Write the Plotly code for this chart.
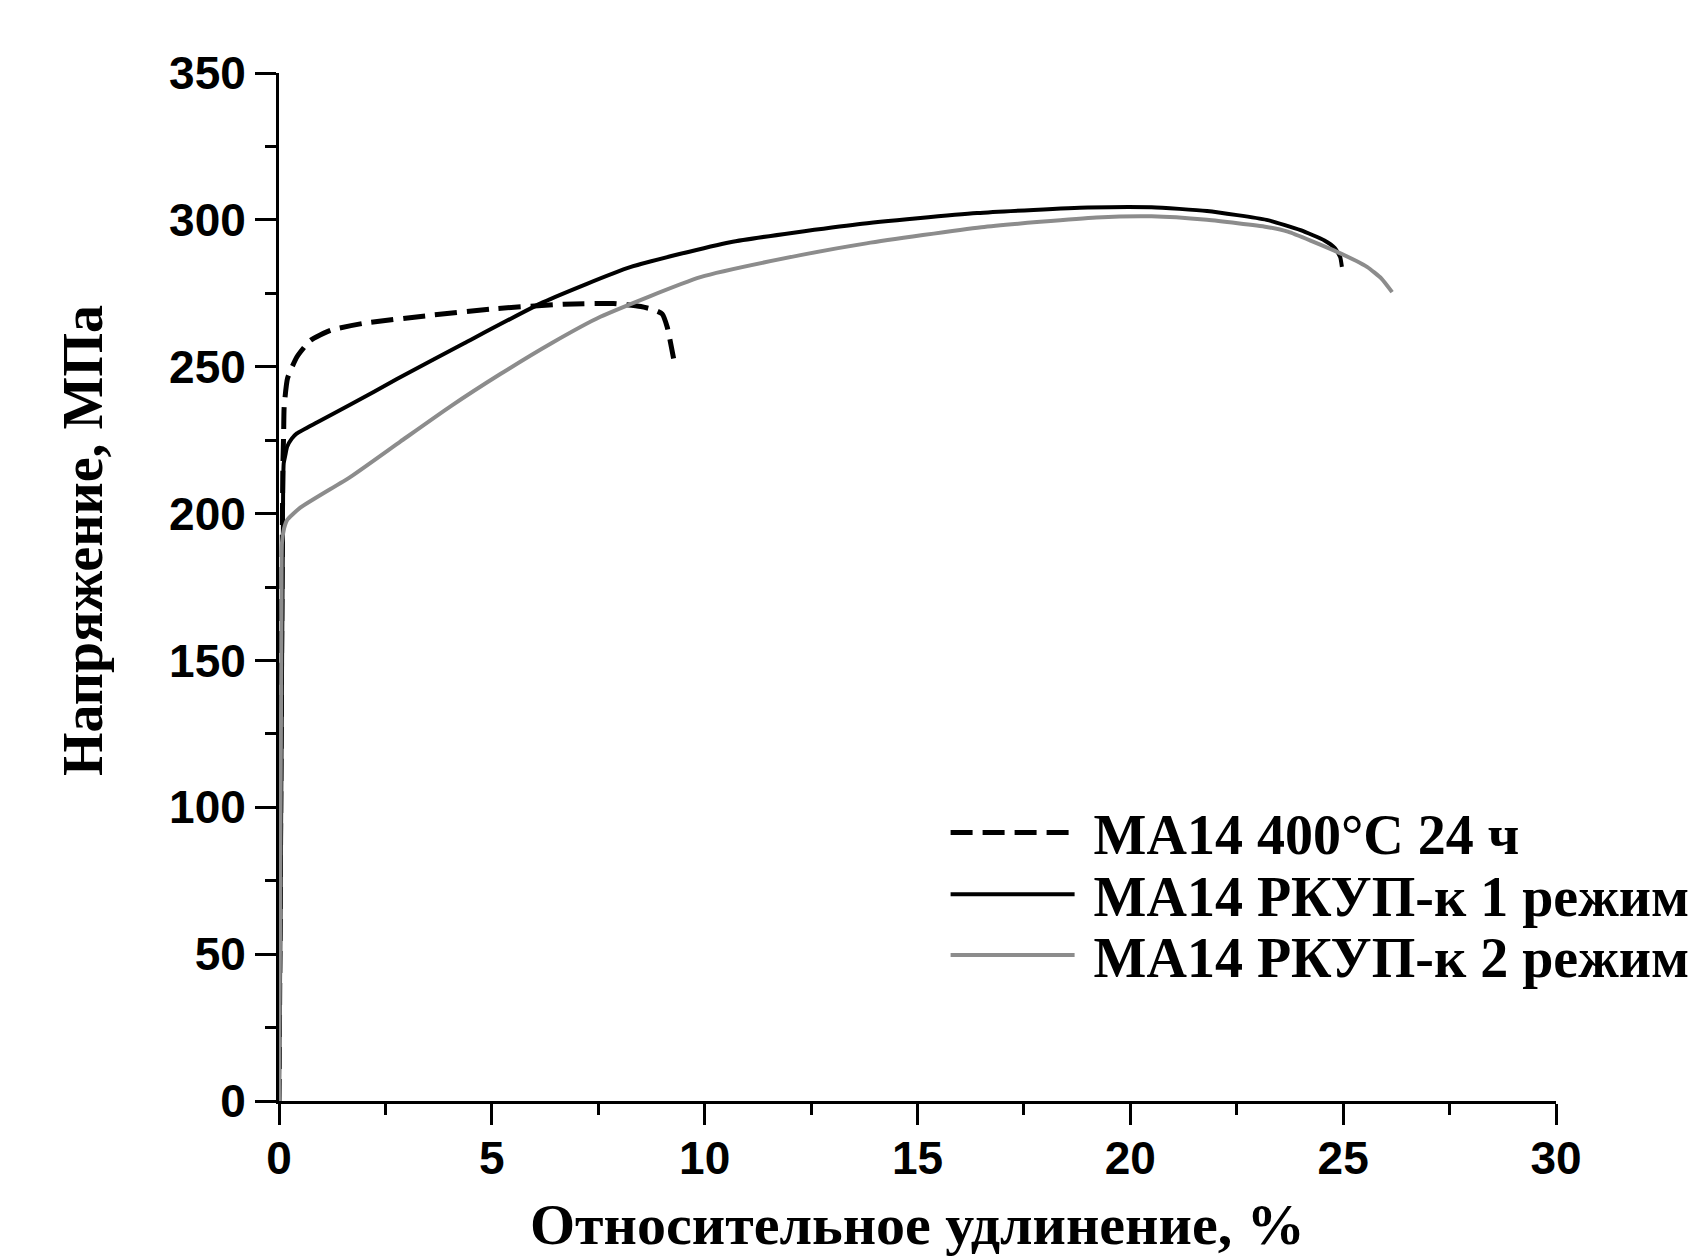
import plotly.graph_objects as go

# Series: strain (%) and stress (MPa)
x_annealed = [0.0, 0.03, 0.06, 0.09, 0.11, 0.12, 0.2, 0.42, 0.74, 1.21, 2.0, 3.56, 5.12, 6.69, 7.86, 8.5, 8.8, 9.0, 9.12, 9.27]
y_annealed = [0.0, 70, 150, 215, 228, 236, 246, 253.3, 259, 262.4, 264.8, 267.5, 269.8, 271.3, 271.5, 270.5, 269.4, 268, 263.5, 252.8]

x_ecap1 = [0.0, 0.03, 0.06, 0.09, 0.11, 0.15, 0.19, 0.3, 0.42, 0.9, 1.68, 2.77, 4.34, 6.21, 8.25, 10.6, 13.6, 16.4, 19.0, 20.5, 21.8, 23.2, 24.0, 24.56, 24.8, 24.93, 24.97]
y_ecap1 = [0.0, 50, 120, 190, 217, 220, 222.7, 225.5, 227.3, 231.1, 237.1, 245.8, 257.9, 272.0, 283.9, 292.4, 298.5, 302.3, 304.2, 304.3, 303.0, 300.0, 296.5, 293.0, 290.5, 287.3, 284.0]

x_ecap2 = [0.0, 0.02, 0.04, 0.06, 0.07, 0.12, 0.19, 0.5, 1.68, 2.85, 4.03, 5.2, 6.4, 7.55, 9.9, 12.25, 13.8, 16.5, 19.2, 20.5, 21.8, 23.2, 23.7, 24.78, 25.56, 25.9, 26.15]
y_ecap2 = [0.0, 45, 110, 170, 190, 195, 197.8, 202.0, 212.5, 224.5, 236.5, 247.5, 258.0, 267.0, 280.5, 288.0, 292.0, 297.5, 300.8, 301.2, 300.0, 297.6, 296.0, 289.6, 284.0, 280.0, 275.4]

names = ["МА14 400°С 24 ч", "МА14 РКУП-к 1 режим", "МА14 РКУП-к 2 режим"]

x_ticks = [0, 5, 10, 15, 20, 25, 30]
y_ticks = [0, 50, 100, 150, 200, 250, 300, 350]

x_title = "Относительное удлинение, %"
y_title = "Напряжение, МПа"

legend_font = dict(family="Liberation Serif, Times New Roman", size=56, color="black", weight="bold")
pad = "\u00a0"

fig = go.Figure()
fig.add_trace(go.Scatter(x=x_annealed, y=y_annealed, mode="lines", name=pad + names[0], legend="legend",
                         line=dict(color="black", width=5, dash="22px,10px", shape="spline", smoothing=0.5)))
fig.add_trace(go.Scatter(x=x_ecap1, y=y_ecap1, mode="lines", name=pad + names[1], legend="legend2",
                         line=dict(color="black", width=4, shape="spline", smoothing=0.5)))
fig.add_trace(go.Scatter(x=x_ecap2, y=y_ecap2, mode="lines", name=pad + names[2], legend="legend3",
                         line=dict(color="#8c8c8c", width=4, shape="spline", smoothing=0.5)))

tick_font = dict(family="Liberation Sans, Arial", size=46, color="black", weight="bold")
ytitle_font = dict(family="Liberation Serif, Times New Roman", size=56, color="black", weight="bold")
xtitle_font = dict(family="Liberation Serif, Times New Roman", size=58, color="black", weight="bold")

common_legend = dict(xanchor="left", yanchor="middle", font=legend_font, itemwidth=124,
                     bgcolor="rgba(0,0,0,0)", borderwidth=0)

fig.update_layout(
    template="none",
    width=1700, height=1259,
    margin=dict(l=279, r=144, t=73, b=158, autoexpand=False),
    plot_bgcolor="white", paper_bgcolor="white",
    showlegend=True,
    legend=dict(x=0.522, y=0.261, **common_legend),
    legend2=dict(x=0.522, y=0.201, **common_legend),
    legend3=dict(x=0.522, y=0.142, **common_legend),
    annotations=[
        dict(text=y_title, xref="paper", yref="paper", x=-0.154, y=0.545,
             xanchor="center", yanchor="middle", textangle=-90, showarrow=False, font=ytitle_font),
        dict(text=x_title, xref="paper", yref="paper", x=0.5, y=-0.120,
             xanchor="center", yanchor="middle", showarrow=False, font=xtitle_font),
    ],
)
fig.update_xaxes(
    range=[0, 30], tickvals=x_ticks, ticktext=[str(v) for v in x_ticks],
    ticks="outside", ticklen=21, tickwidth=3, tickcolor="black",
    showline=True, linewidth=3, linecolor="black", mirror=False,
    showgrid=False, zeroline=False, tickfont=tick_font, ticklabelstandoff=-6,
    minor=dict(ticks="outside", ticklen=11, tickwidth=3, tickcolor="black", dtick=2.5, tick0=0, showgrid=False),
)
fig.update_yaxes(
    range=[0, 350], tickvals=y_ticks, ticktext=[str(v) for v in y_ticks],
    ticks="outside", ticklen=21, tickwidth=3, tickcolor="black",
    showline=True, linewidth=3, linecolor="black", mirror=False,
    showgrid=False, zeroline=False, tickfont=tick_font,
    minor=dict(ticks="outside", ticklen=11, tickwidth=3, tickcolor="black", dtick=25, tick0=0, showgrid=False),
)

fig.write_html("out.html")
